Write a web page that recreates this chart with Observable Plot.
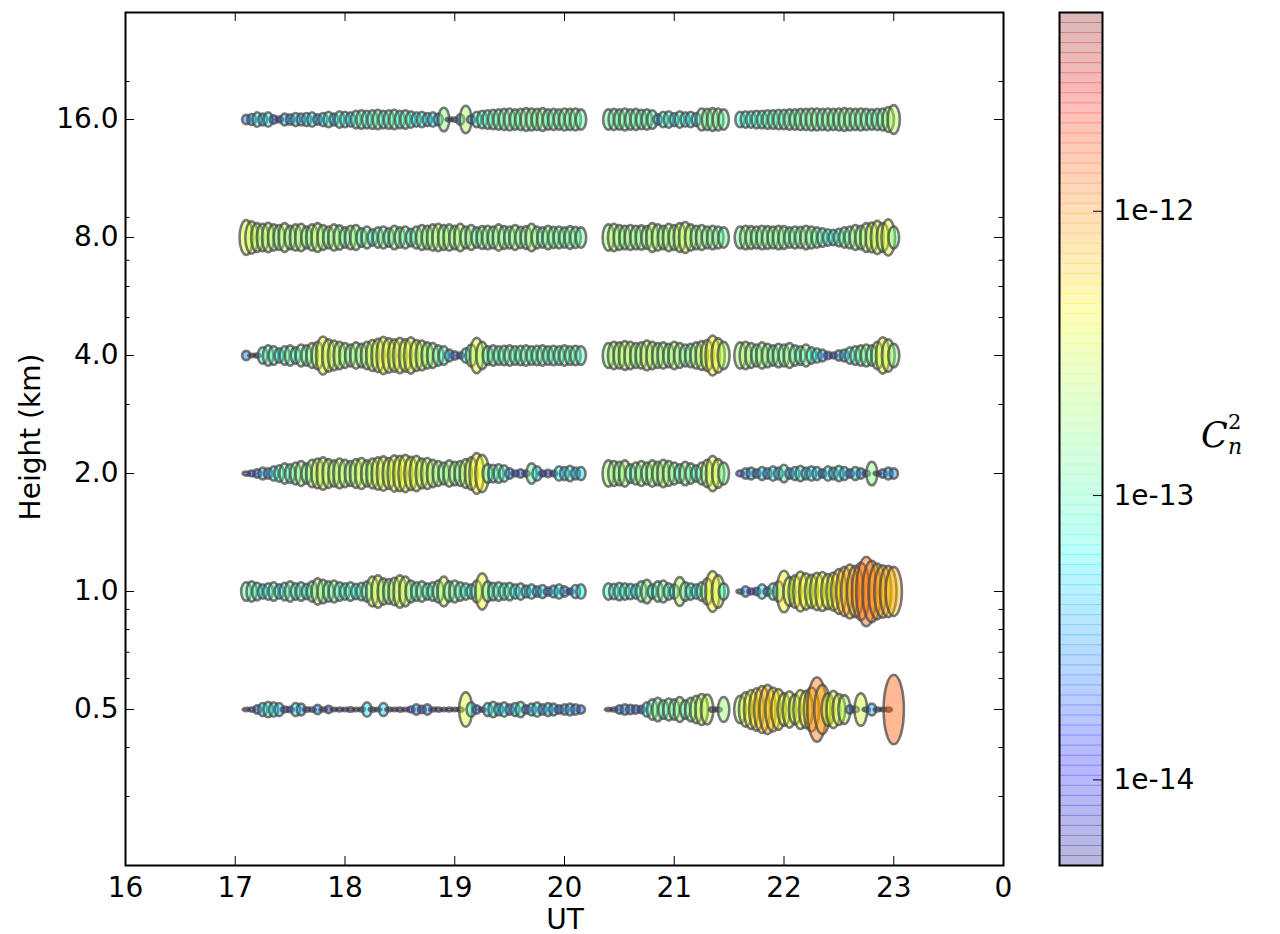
<!DOCTYPE html>
<html><head><meta charset="utf-8">
<script src="https://cdn.jsdelivr.net/npm/d3@7"></script>
<script src="https://cdn.jsdelivr.net/npm/@observablehq/plot@0.6"></script>
<style>
html,body{margin:0;padding:0;background:#fff;overflow:hidden;}
#wrap{position:relative;width:1280px;height:934px;font-family:"DejaVu Sans",sans-serif;color:#000;}
#main{position:absolute;left:0;top:0;}
#cbar{position:absolute;left:1040px;top:0;}
.lab{position:absolute;font-size:28px;line-height:1;white-space:nowrap;}
</style></head><body>
<div id="wrap">
  <div id="main"></div>
  <div id="cbar"></div>
  <div class="lab" style="left:31px;top:437px;transform:translate(-50%,-50%) rotate(-90deg);">Height (km)</div>
  <div class="lab" style="left:565px;top:920px;transform:translate(-50%,-50%);">UT</div>
  <div style="position:absolute;left:1201px;top:418px;font-family:'DejaVu Serif',serif;font-style:italic;font-size:35px;line-height:1;">C<span style="position:absolute;left:27px;top:-6px;font-size:21px;font-style:normal;">2</span><span style="position:absolute;left:27px;top:18px;font-size:22px;">n</span></div>
</div>
<script>
// Height levels (km)
const heights = [0.5, 1, 2, 4, 8, 16];
// Sample times (UT hours) — three observing segments
const times = [
  17.10,17.15,17.20,17.25,17.30,17.35,17.40,17.45,17.50,17.55,
  17.60,17.65,17.70,17.75,17.80,17.85,17.90,17.95,18.00,18.05,
  18.10,18.15,18.20,18.25,18.30,18.35,18.40,18.45,18.50,18.55,
  18.60,18.65,18.70,18.75,18.80,18.85,18.90,18.95,19.00,19.05,
  19.10,19.15,19.20,19.25,19.30,19.35,19.40,19.45,19.50,19.55,
  19.60,19.65,19.70,19.75,19.80,19.85,19.90,19.95,20.00,20.05,
  20.10,20.15,
  20.40,20.45,20.50,20.55,20.60,20.65,20.70,20.75,20.80,20.85,
  20.90,20.95,21.00,21.05,21.10,21.15,21.20,21.25,21.30,21.35,
  21.40,21.45,
  21.60,21.65,21.70,21.75,21.80,21.85,21.90,21.95,22.00,22.05,
  22.10,22.15,22.20,22.25,22.30,22.35,22.40,22.45,22.50,22.55,
  22.60,22.65,22.70,22.75,22.80,22.85,22.90,22.95,23.00
];
// Cn2 per height, in units of 1e-14 m^-2/3
const cn2_05 = [
  0.3,0.5,2,5,7,6,5,1,0.8,5, 4,0.6,0.5,2.5,0.4,1.5,0.3,0.4,0.3,0.6,
  0.3,0.4,6,0.5,0.3,5,0.4,0.3,0.5,0.3, 1,3,1.5,3,0.4,0.5,0.3,0.4,0.3,0.5,
  34,6,2,0.5,5,7,4,6,3,5, 7,2,4,6,3,5,4,2,3,4, 3,2,
  0.3,0.4,2,3,2.5,2,1.5,6,12,16, 10,14,12,18,10,16,22,28,26,0.6, 0.5,18,
  22,34,44,52,64,70,56,48,30,38, 26,44,40,56,120,70,30,40,28,24, 2,1,30,0.5,4,0.4,0.3,0.5,140
];
const cn2_1 = [
  10,12,9,6,8,10,6,9,12,8, 10,7,12,20,16,12,14,10,8,10,
  7,9,12,26,30,20,18,22,30,26, 14,10,12,8,10,14,26,12,14,10,
  8,6,14,38,12,9,10,8,9,6, 8,4,6,3,5,2,4,6,3,1, 5,6,
  8,7,9,8,7,6,12,16,6,12, 14,8,6,24,10,8,6,10,20,48, 30,8,
  0.5,3,1,1.5,6,2,8,12,50,24, 30,46,38,32,40,44,36,42,58,70, 84,76,96,140,110,90,80,76,70
];
const cn2_2 = [
  0.5,1,2,4,3,6,8,12,10,14, 18,12,22,26,30,24,20,26,22,18,
  24,28,20,26,30,34,28,38,36,40, 32,36,26,28,22,18,14,20,16,18,
  24,30,48,40,10,9,10,8,3,1, 2,1,12,6,1,1.5,0.8,6,5,7, 4,5,
  20,18,16,20,10,14,18,14,20,16, 22,18,14,10,16,12,8,14,22,36, 24,14,
  1,3,4,2,5,3,6,4,9,3, 5,7,4,6,5,2,6,4,7,5, 2,5,3,1,16,0.5,2,4,3
];
const cn2_4 = [
  2.5,0.3,0.5,8,12,10,6,10,12,8, 14,12,18,22,42,30,26,22,18,14,
  20,16,22,28,32,40,34,30,36,30, 38,28,26,20,18,12,10,4,2,1,
  6,14,36,22,10,12,10,11,12,10, 11,12,10,11,12,10,11,10,12,10, 11,10,
  18,22,20,24,22,18,20,26,22,18, 20,16,22,18,14,16,20,24,28,46, 34,22,
  20,22,18,14,20,16,12,16,14,18, 12,10,14,8,6,4,1.5,1,3,4, 8,10,12,14,12,22,38,30,16
];
const cn2_8 = [
  35,30,24,22,25,20,18,24,16,20, 22,14,20,24,18,14,20,17,12,16,
  18,10,14,8,12,14,10,16,12,14, 9,14,18,16,20,22,18,20,16,22,
  14,18,12,15,16,14,20,15,14,18, 13,15,22,14,12,16,13,14,12,15, 13,12,
  20,22,18,16,18,16,17,15,24,20, 16,22,18,24,28,20,16,18,14,16, 14,12,
  14,16,15,14,16,15,14,16,15,12, 14,13,16,14,12,10,8,7,9,12, 14,18,16,24,26,32,24,38,14
];
const cn2_16 = [
  2.5,3.5,6,4,6,2,1,4,3,5, 4,5,6,3,5,7,4,8,7,6,
  9,10,9,10,11,9,10,11,9,10, 8,6,7,5,6,4,16,0.4,0.5,3,
  22,2,7,9,10,11,12,13,14,12, 13,15,14,13,15,12,13,12,14,13, 14,12,
  12,13,12,14,12,13,11,12,10,3, 7,8,5,8,6,7,5,14,13,15, 14,12,
  7,8,8,9,9,10,10,11,11,12, 12,13,13,14,14,13,14,13,14,15, 14,13,14,13,12,13,14,18,24
];
const rows = [cn2_05, cn2_1, cn2_2, cn2_4, cn2_8, cn2_16];
const xTicks = [16, 17, 18, 19, 20, 21, 22, 23, 24];
const yMinor = [0.3, 0.4, 0.6, 0.7, 0.8, 0.9, 3, 5, 6, 7, 9, 20];
const cbTicks = [1, 10, 100];

// matplotlib "jet"
const segR = d3.scaleLinear([0, 0.35, 0.66, 0.89, 1], [0, 0, 1, 1, 0.5]).clamp(true);
const segG = d3.scaleLinear([0, 0.125, 0.375, 0.64, 0.91, 1], [0, 0, 1, 1, 0, 0]).clamp(true);
const segB = d3.scaleLinear([0, 0.11, 0.34, 0.65, 1], [0.5, 1, 1, 0, 0]).clamp(true);
const jet = t => d3.rgb(255 * segR(t), 255 * segG(t), 255 * segB(t)).toString();
const colorOpts = {type: "log", domain: [0.5, 500], interpolate: jet, clamp: true};

const data = [];
heights.forEach((h, j) => rows[j].forEach((v, i) => data.push({t: times[i], h, v})));

const ellipse = {
  draw(ctx, size) {
    const ry = Math.sqrt(size / Math.PI);
    const rx = 3.2 + 0.2 * ry;
    const k = 0.5523;
    ctx.moveTo(rx, 0);
    ctx.bezierCurveTo(rx, k * ry, k * rx, ry, 0, ry);
    ctx.bezierCurveTo(-k * rx, ry, -rx, k * ry, -rx, 0);
    ctx.bezierCurveTo(-rx, -k * ry, -k * rx, -ry, 0, -ry);
    ctx.bezierCurveTo(k * rx, -ry, rx, -k * ry, rx, 0);
    ctx.closePath();
  }
};

const W = 1040, H = 934, ML = 125, MR = 37, MT = 12, MB = 69;
const xDom = [16, 24], yDom = [0.2, 30];
const pxX = (W - ML - MR) / (xDom[1] - xDom[0]);
const pxLogY = (H - MT - MB) / Math.log10(yDom[1] / yDom[0]);
const dxT = n => n / pxX;                 // n pixels in hours
const fyT = n => Math.pow(10, n / pxLogY); // n pixels as log factor
const font = {fontSize: "28px", fontFamily: "DejaVu Sans, sans-serif", background: "white", color: "black", overflow: "visible"};

const main = Plot.plot({
  width: W, height: H, marginLeft: ML, marginRight: MR, marginTop: MT, marginBottom: MB,
  style: font,
  x: {domain: xDom, ticks: xTicks, tickFormat: d => d === 24 ? "0" : String(d), tickSize: 0, tickPadding: 12, label: null},
  y: {type: "log", domain: yDom, axis: null},
  r: {type: "sqrt", domain: [0, 150], range: [0, 36]},
  color: colorOpts,
  marks: [
    Plot.dot(data, {x: "t", y: "h", r: "v", fill: "v", symbol: ellipse, fillOpacity: 0.42,
      stroke: "#474747", strokeOpacity: 0.72, strokeWidth: 2.6, sort: null}),
    Plot.text(heights, {y: d => d, x: xDom[0], text: d => d.toFixed(1), textAnchor: "end", dx: -7, fontSize: 28, fill: "black"}),
    Plot.ruleY(heights, {y: d => d, x1: xDom[0], x2: xDom[0] + dxT(9), stroke: "black", strokeWidth: 1}),
    Plot.ruleY(heights, {y: d => d, x1: xDom[1] - dxT(9), x2: xDom[1], stroke: "black", strokeWidth: 1}),
    Plot.ruleY(yMinor, {y: d => d, x1: xDom[0], x2: xDom[0] + dxT(4.5), stroke: "black", strokeWidth: 1}),
    Plot.ruleY(yMinor, {y: d => d, x1: xDom[1] - dxT(4.5), x2: xDom[1], stroke: "black", strokeWidth: 1}),
    Plot.ruleX(xTicks.slice(1, -1), {x: d => d, y1: yDom[0], y2: yDom[0] * fyT(9), stroke: "black", strokeWidth: 1}),
    Plot.ruleX(xTicks.slice(1, -1), {x: d => d, y1: yDom[1] / fyT(9), y2: yDom[1], stroke: "black", strokeWidth: 1}),
    Plot.frame({stroke: "black", strokeWidth: 2})
  ]
});
document.getElementById("main").append(main);

// colour bar
const nBands = 85;
const cbStops = d3.range(nBands).map(i => 0.5 * Math.pow(1000, i / nBands));
const bandF = Math.pow(1000, 1 / nBands);
const cbar = Plot.plot({
  width: 240, height: H, marginLeft: 19, marginRight: 178, marginTop: MT, marginBottom: MB,
  style: font,
  x: {domain: [0, 1], axis: null},
  y: {type: "log", domain: [0.5, 500], axis: null},
  color: colorOpts,
  marks: [
    Plot.rect(cbStops, {x1: 0, x2: 1, y1: d => d, y2: d => d * bandF, fill: d => d * Math.sqrt(bandF), fillOpacity: 0.28}),
    Plot.ruleY(cbStops.slice(1), {y: d => d, x1: 0, x2: 1, stroke: d => d, strokeOpacity: 0.3, strokeWidth: 1}),
    Plot.ruleY(cbTicks, {y: d => d, x1: 0.79, x2: 1, stroke: "black", strokeWidth: 1}),
    Plot.text(cbTicks, {y: d => d, x: 1, text: d => `1e${Math.round(Math.log10(d)) - 14}`, textAnchor: "start", dx: 11, fontSize: 28, fill: "black"}),
    Plot.frame({stroke: "black", strokeWidth: 2})
  ]
});
document.getElementById("cbar").append(cbar);
</script>
</body></html>
